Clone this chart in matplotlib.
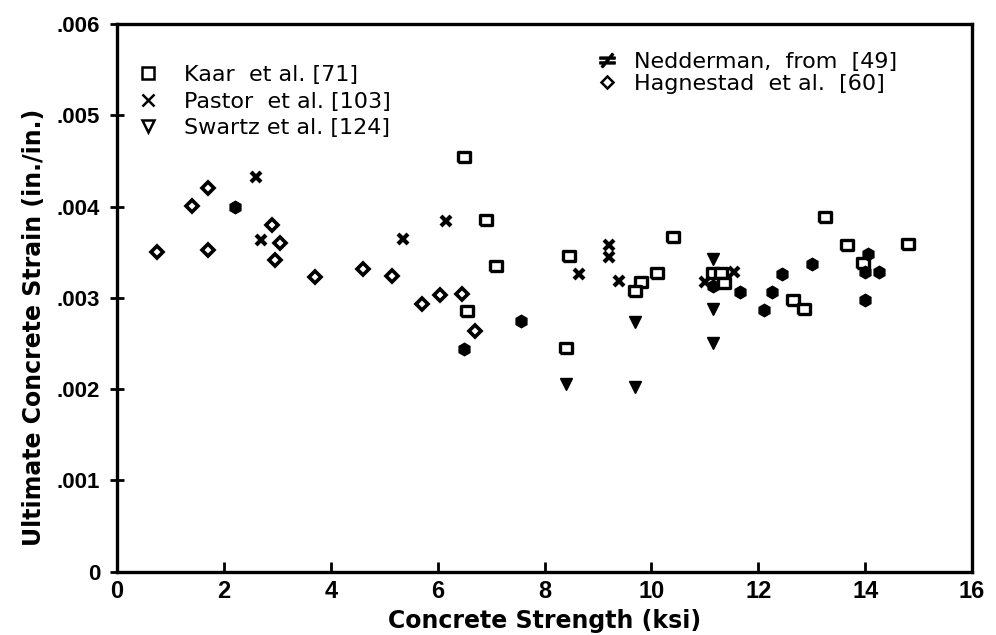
import matplotlib
matplotlib.use("Agg")
import matplotlib.pyplot as plt
from matplotlib.lines import Line2D
from matplotlib.ticker import FixedLocator

# data (ksi, in./in.)
kaar_x = [6.5, 6.9, 8.45, 7.1, 6.55, 8.4, 9.8, 9.7, 10.1, 10.4, 11.15, 11.3,
          11.35, 13.25, 13.65, 14.8, 13.95, 12.65, 12.85]
kaar_y = [.00454, .00385, .00346, .00335, .00285, .00245, .00317, .00307,
          .00327, .00367, .00327, .00327, .00316, .00389, .00358, .00359,
          .00338, .00298, .00288]

pastor_x = [2.6, 2.7, 5.35, 6.15, 8.65, 9.2, 9.2, 9.4, 11.0, 11.55]
pastor_y = [.00432, .00363, .00364, .00384, .00326, .00358, .00345, .00318,
            .00317, .00328]

swartz_x = [8.4, 9.7, 9.7, 11.15, 11.15, 11.15]
swartz_y = [.00206, .00274, .00202, .00342, .00288, .00250]

nedd_x = [2.2, 6.5, 7.55, 11.15, 11.65, 12.25, 12.1, 12.45, 13.0, 14.05, 14.0,
          14.25, 14.0]
nedd_y = [.0040, .00244, .00275, .00313, .00306, .00306, .00287, .00326,
          .00337, .00348, .00328, .00328, .00298]

hag_x = [0.75, 1.4, 1.7, 1.7, 2.9, 3.05, 2.95, 3.7, 4.6, 5.15, 5.7, 6.05,
         6.45, 6.7]
hag_y = [.00350, .00401, .00420, .00352, .00380, .00360, .00341, .00323,
         .00332, .00324, .00293, .00303, .00304, .00264]

x_ticks = [0, 2, 4, 6, 8, 10, 12, 14, 16]
y_ticks = [0, .001, .002, .003, .004, .005, .006]
y_ticklabels = ["0", ".001", ".002", ".003", ".004", ".005", ".006"]

rect = [(-1.3, -1), (1.3, -1), (1.3, 1), (-1.3, 1), (-1.3, -1)]

fig = plt.figure(figsize=(9.96, 6.35), dpi=100)
ax = fig.add_axes([0.1175, 0.1, 0.8585, 0.862])

ax.plot(kaar_x, kaar_y, ls="none", marker=rect, ms=8.5, mfc="white",
        mec="black", mew=2.4)
ax.plot(pastor_x, pastor_y, ls="none", marker="x", ms=7, mec="black", mew=3)
ax.plot(swartz_x, swartz_y, ls="none", marker="v", ms=9, color="black")
ax.plot(nedd_x, nedd_y, ls="none", marker="h", ms=9, color="black")
ax.plot(hag_x, hag_y, ls="none", marker="D", ms=6.5, mfc="white",
        mec="black", mew=2.6)

ax.set_xlim(0, 16)
ax.set_ylim(0, .006)
ax.xaxis.set_major_locator(FixedLocator(x_ticks))
ax.set_xticklabels([str(t) for t in x_ticks])
ax.yaxis.set_major_locator(FixedLocator(y_ticks))
ax.set_yticklabels(y_ticklabels)

for s in ax.spines.values():
    s.set_linewidth(2.4)
ax.tick_params(axis="x", direction="in", length=7, width=2, pad=6)
ax.tick_params(axis="y", direction="inout", length=10, width=2, pad=7)
for lab in ax.get_xticklabels():
    lab.set_fontfamily("Liberation Sans")
    lab.set_fontweight("bold")
    lab.set_fontsize(17)
for lab in ax.get_yticklabels():
    lab.set_fontfamily("Liberation Sans")
    lab.set_fontweight("bold")
    lab.set_fontsize(16)

ax.set_xlabel("Concrete Strength (ksi)", fontfamily="DejaVu Sans",
              fontweight="bold", fontsize=17)
ax.set_ylabel("Ultimate Concrete Strain (in./in.)", fontfamily="DejaVu Sans",
              fontweight="bold", fontsize=17)
ax.xaxis.set_label_coords(0.5, -0.068)
ax.yaxis.set_label_coords(-0.083, 0.446)

leg_font = {"family": "DejaVu Sans", "weight": "normal", "size": 16}
left_handles = [
    Line2D([], [], ls="none", marker="s", ms=8, mfc="white", mec="black", mew=1.8),
    Line2D([], [], ls="none", marker="x", ms=8, mec="black", mew=1.8),
    Line2D([], [], ls="none", marker="v", ms=8, mfc="white", mec="black", mew=1.8),
]
left_labels = ["Kaar  et al. [71]", "Pastor  et al. [103]", "Swartz et al. [124]"]
leg1 = ax.legend(left_handles, left_labels, loc="upper left",
                 bbox_to_anchor=(0.0, 0.958), frameon=False, prop=leg_font,
                 handlelength=1.2, handletextpad=1.0, labelspacing=0.3,
                 borderaxespad=0.4)
ax.add_artist(leg1)

right_handles = [
    Line2D([], [], ls="none", marker=r"$\neq$", ms=11, color="black"),
    Line2D([], [], ls="none", marker="D", ms=6, mfc="white", mec="black", mew=1.8),
]
right_labels = ["Nedderman,  from  [49]", "Hagnestad  et al.  [60]"]
ax.legend(right_handles, right_labels, loc="upper left",
          bbox_to_anchor=(0.537, 0.982), frameon=False, prop=leg_font,
          handlelength=1.2, handletextpad=0.6, labelspacing=0.1,
          borderaxespad=0.4)

fig.savefig("out.png", dpi=100)
